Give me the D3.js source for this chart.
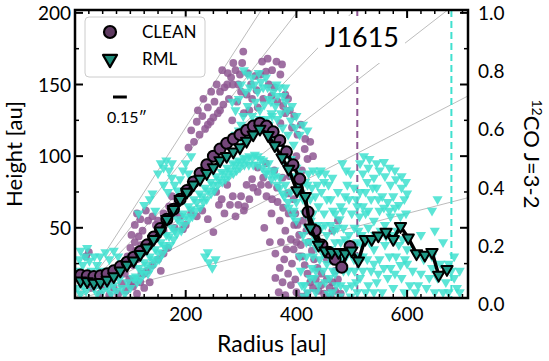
<!DOCTYPE html>
<html>
<head>
<meta charset="utf-8">
<script src="https://cdn.jsdelivr.net/npm/d3@7"></script>
<style>
  body { margin: 0; background: #fff; }
  text { font-family: Lato, "Open Sans", sans-serif; }
</style>
</head>
<body>
<div class="container"></div>
<script>
// binned height profiles
const cleanR = [10,22,34,46,58,70,82,94,106,118,130,142,154,166,178,190,202,214,226,238,250,262,274,286,298,310,322,334,346,358,370,382,394,406,421,434,446,458,470,482,497];
const cleanZ = [17,16.5,16,16.5,18,20,23,26,29.5,33.5,38,43.5,49.5,56,63,70,76,82,88,94,100,105,109,112,115,118,121,123,121,117,111,103,94,84,61,48,38,33,28,22.5,37];
const rmlR = [10,22,34,46,58,70,82,94,106,118,130,142,154,166,178,190,202,214,226,238,250,262,274,286,298,310,322,334,349,361,374,386,401,416,425,440,452,464,476,488,500,512,524,536,548,562,575,588,602,617,632,645,657,672];
const rmlZ = [13,12.5,11.5,12,13.5,16,20,24,27,31.5,36,42,48,56,63,70,75,80,84,88,92,97,100,103,106,110.5,115,119,114.5,107.5,99,91,76,72,50,38,34,33,33,32,34,27,42,42,44.5,47,42,51,43,32,31,33,17,21];

// individual emission surface points [r, z]
const cleanCloud = [
  [20,30],[25,33],[30,8],[45,4],[55,9],[62,3],[70,8],[78,4],[85,11],[92,6],[98,14],[105,9],[112,4],[118,12],[125,18],
  [80,22],[90,26],[100,30],[110,34],[102,45],[108,52],[112,60],[118,56],[122,48],[128,62],[132,55],[140,58],[146,52],
  [108,40],[115,44],[95,30],[100,36],[105,24],[112,28],[120,32],[140,40],[150,45],[160,48],[170,55],[180,60],[195,49],
  [185,68],[175,72],[100,10],[110,14],[120,18],[130,20],[140,24],[150,28],[160,32],[168,36],[155,20],[135,12],[125,8],
  [160,60],[150,55],[170,65],[180,50],[190,58],[200,52],[210,60],[220,58],[230,62],[240,56],[130,40],[120,38],[90,18],
  [75,16],[65,12],[50,16],[40,10],
  [205,106],[215,110],[225,115],[235,119],[245,124],[258,130],[268,136],[278,140],[285,150],[293,138],[300,145],[305,130],
  [310,143],[315,132],[320,140],[328,146],[304,173],[275,150],[282,155],[290,160],[298,157],[335,157],[345,159],[350,150],
  [360,148],[371,157],[374,164],[380,143],[385,140],[376,135],[380,130],[371,123],[392,120],[284,125],[262,132],[250,127],[240,122],
  [210,118],[220,124],[230,128],[240,134],[252,138],[262,145],[270,148],[276,158],[286,165],[295,150],[302,165],[312,158],
  [318,150],[326,156],[338,166],[348,168],[356,160],[364,166],[330,134],[340,140],[355,142],[366,138],[388,132],[396,128],
  [402,115],[408,122],[416,112],[232,140],[246,145],[256,150],[266,160],[222,132],
  [255,75],[265,70],[275,80],[285,72],[295,66],[305,62],[315,70],[330,75],[340,85],[350,80],[360,90],[365,78],[375,85],
  [385,74],[395,70],[400,82],[410,90],[345,95],[330,92],[320,84],[250,47],[307,65],[270,60],[290,58],[400,100],[415,105],
  [425,110],[420,98],[430,100],[388,86],[392,92],
  [260,66],[280,66],[300,72],[310,80],[322,78],[336,80],[346,72],[356,70],[366,68],[376,64],[386,60],[396,52],[355,60],
  [370,55],[380,48],[390,42],[372,40],[382,35],[362,32],[352,40],[342,50],
  [398,60],[402,52],[405,45],[408,38],[410,30],[415,24],[420,18],[425,12],[430,8],[440,6],[450,4],[460,8],[465,12],
  [412,55],[418,48],[422,40],[428,34],[432,28],[438,22],[445,18],[362,15],[370,22],[378,28],[385,18],[392,25],[398,14],
  [470,20],[455,28],[465,48],[475,55],
  [400,40],[405,30],[395,35],[390,10],[400,5],[410,2],[420,4],[435,14],[445,10],[455,14],[462,2],[470,6],[475,14],[480,4],
  [375,12],[368,5],[380,3]
];
const rmlCloud = [
  [5,20],[8,28],[10,34],[14,24],[18,30],[22,36],[26,27],[30,20],[5,8],[10,4],[15,10],[20,6],[25,14],[35,8],[40,4],[45,12],
  [50,6],[55,14],[60,8],[65,4],[70,10],[75,6],[80,14],[85,8],[90,4],[95,12],[100,8],[105,15],[35,30],[40,24],[45,20],
  [45,30],[55,33],[62,28],[70,34],[78,30],[115,60],[125,66],[135,70],[145,62],[140,74],
  [110,16],[115,22],[120,20],[125,26],[130,24],[135,30],[140,28],[145,35],[150,33],[155,40],[160,38],[165,45],[170,44],
  [175,50],[180,48],[185,56],[190,54],[195,60],[200,58],[205,65],[210,63],[215,70],[220,68],[225,74],[230,72],[235,78],
  [240,76],[245,82],[250,80],[255,86],[260,84],[265,89],[270,88],[275,92],[280,90],[285,95],[290,94],[295,97],[300,96],
  [305,99],[310,98],[315,100],[320,99],[325,101],[330,100],[335,98],[340,97],[350,95],[360,90],[370,85],[380,80],[390,75],
  [400,68],[345,88],[355,84],[365,80],[375,74],[385,68],[395,62],
  [112,12],[118,14],[124,18],[132,18],[138,22],[146,26],[152,28],[158,32],[164,36],[172,38],[178,42],[184,46],[192,48],
  [198,52],[206,56],[212,58],[218,62],[226,64],[232,68],[238,70],[246,74],[252,76],[258,80],[266,82],[272,84],[278,86],
  [286,88],[292,90],[298,92],[306,94],[314,94],[322,94],[330,94],[338,92],[346,90],[354,88],[362,86],[370,78],[378,72],
  [386,64],[394,58],[400,55],
  [340,125],[350,122],[360,118],[370,112],[380,105],[390,98],[400,92],[355,130],[365,126],[375,120],[385,115],[395,108],
  [300,112],[310,116],[318,120],[326,124],[334,126],[342,118],[352,112],[362,108],[372,100],[382,94],[392,86],[402,80],[408,74],
  [305,160],[312,157],[320,155],[336,152],[340,148],[358,145],[366,142],[370,148],[362,135],[372,130],[380,138],[304,128],
  [312,135],[320,128],[326,138],[334,132],[342,136],[350,140],[356,128],[346,126],[390,125],[398,120],[412,122],[420,118],
  [380,148],[345,155],[330,145],[300,122],[296,118],[290,115],
  [300,150],[308,145],[316,148],[324,150],[332,158],[348,148],[354,138],[364,150],[376,142],[384,132],[392,135],[400,128],
  [406,115],[296,140],[290,132],[284,138],
  [150,88],[155,95],[160,92],[165,97],[170,90],[175,85],[180,80],[185,76],[190,84],[160,80],[168,75],[175,95],[195,90],
  [200,95],[210,100],[205,88],[235,30],[242,26],[248,22],[254,28],[240,33],
  [420,80],[425,70],[430,60],[420,50],[425,40],[430,30],[435,20],[440,10],[445,50],[440,65],[445,75],[450,82],[455,70],
  [450,60],[455,45],[460,35],[455,25],[460,15],[465,5],[470,60],[470,40],[475,28],[470,18],[480,10],[475,75],[480,65],
  [485,50],[480,40],[490,30],[485,20],[490,8],[495,70],[500,60],[495,45],[500,35],[505,20],[500,10],[510,5],[505,50],
  [465,85],[440,88],[430,90],[415,60],[412,45],[418,30],[425,15],[435,5],[510,40],[510,65],[415,10],
  [405,88],[408,80],[412,70],[416,82],[422,88],[428,78],[434,72],[438,80],[444,90],[452,88],[458,80],[462,70],[466,62],
  [462,52],[468,48],[474,50],[478,56],[484,62],[488,72],[492,80],[498,88],[504,78],[508,70],[514,58],[512,48],[406,30],
  [408,20],[410,10],[414,2],[420,5],[428,22],[432,44],[436,36],[442,28],[448,20],[452,12],[458,4],[462,28],[466,20],
  [472,10],[478,2],[482,30],[488,42],[494,20],[498,2],[504,28],[508,12],[514,30],[518,45],[438,52],[444,40],[448,32],
  [452,52],[432,15],[426,55],[418,40],
  [520,88],[530,92],[540,85],[550,90],[560,86],[570,80],[580,84],[590,78],[600,74],[525,75],[535,70],[545,78],[555,72],
  [565,68],[575,72],[585,66],[595,70],[483,95],[490,90],[525,60],[540,55],[550,62],[560,52],[570,58],[530,50],
  [645,62],[655,70],[650,48],[625,45],[665,40],[540,35],[550,28],[560,38],[570,22],[580,30],[590,15],
  [600,25],[545,12],[555,5],[565,15],[575,8],[585,38],[595,5],[535,20],[610,20],[620,10],[630,28],[640,15],[650,5],
  [660,25],[670,12],[680,20],[690,8],[615,32],[645,30],[685,30],[675,5],[520,30],[515,15],[525,5],
  [515,95],[522,100],[532,98],[545,95],[558,96],[568,92],[578,90],[590,86],[598,82],[528,82],
  [538,78],[548,70],[558,64],[568,62],[578,64],[588,58],[598,60],[532,40],[542,45],[552,48],[562,44],[572,45],
  [582,48],[592,42],[600,35],[695,20],[540,25],[548,18],[558,22],[568,30],[578,18],[588,24],[596,28],[605,10],[615,5],
  [625,18],[635,8],[645,22],[655,15],[665,5],[675,25],[685,15],[695,5],[530,10],[540,5],[520,20],[528,28],[518,38],
  [520,65],[530,62],[515,75]
];

const slopes = [0.1, 0.2, 0.3, 0.4, 0.5, 0.6];
const xTicks = [200, 400, 600];
const yTicks = [50, 100, 150, 200];
const rightTicks = [0, 0.2, 0.4, 0.6, 0.8, 1.0];
const cleanEdge = 510, rmlEdge = 680;
const beamAu = 25;

const W = 549, H = 361;
const L = 75, R = 468, T = 10, B = 298;
const purple = '#8e5792', cyan = '#3fe0cf';
const cleanFace = '#74467a', rmlFace = '#1f9a88';

const x = d3.scaleLinear().domain([0, 710]).range([L, R]);
const y = d3.scaleLinear().domain([1, 202]).range([B, T]);
const yr = d3.scaleLinear().domain([0, 1]).range([304, 13]);

const svg = d3.select('.container').append('svg')
    .attr('width', W).attr('height', H);

svg.append('clipPath').attr('id', 'clip')
    .append('rect').attr('x', L).attr('y', T).attr('width', R - L).attr('height', B - T);

const plot = svg.append('g').attr('clip-path', 'url(#clip)');

// constant z/r lines
plot.append('g').selectAll('line')
    .data(slopes).enter().append('line')
    .attr('x1', x(0)).attr('y1', y(0))
    .attr('x2', x(800)).attr('y2', d => y(800 * d))
    .attr('stroke', '#b4b4b4').attr('stroke-width', 0.9);

// outer edges
plot.append('line')
    .attr('x1', x(cleanEdge)).attr('x2', x(cleanEdge)).attr('y1', T).attr('y2', B)
    .attr('stroke', purple).attr('stroke-width', 2).attr('stroke-dasharray', '7,4');
plot.append('line')
    .attr('x1', x(rmlEdge)).attr('x2', x(rmlEdge)).attr('y1', T).attr('y2', B)
    .attr('stroke', cyan).attr('stroke-width', 2).attr('stroke-dasharray', '7,4');

// scatter clouds
plot.append('g').selectAll('circle')
    .data(cleanCloud).enter().append('circle')
    .attr('cx', d => x(d[0])).attr('cy', d => y(d[1]))
    .attr('r', 3.9).attr('fill', purple).attr('opacity', 0.85);

plot.append('g').selectAll('path')
    .data(rmlCloud).enter().append('path')
    .attr('d', d3.symbol().type(d3.symbolTriangle).size(45))
    .attr('transform', d => `translate(${x(d[0])},${y(d[1])}) rotate(180)`)
    .attr('fill', cyan).attr('opacity', 0.85);

// binned profiles
const cleanPts = cleanR.map((r, i) => [r, cleanZ[i]]);
const rmlPts = rmlR.map((r, i) => [r, rmlZ[i]]);
const line = d3.line().x(d => x(d[0])).y(d => y(d[1]));

plot.append('path').datum(cleanPts).attr('d', line)
    .attr('fill', 'none').attr('stroke', '#000').attr('stroke-width', 3.5).attr('stroke-linejoin', 'round');
plot.append('g').selectAll('circle')
    .data(cleanPts).enter().append('circle')
    .attr('cx', d => x(d[0])).attr('cy', d => y(d[1]))
    .attr('r', 5.5).attr('fill', cleanFace).attr('stroke', '#000').attr('stroke-width', 2);

plot.append('path').datum(rmlPts).attr('d', line)
    .attr('fill', 'none').attr('stroke', '#000').attr('stroke-width', 3.5).attr('stroke-linejoin', 'round');
plot.append('g').selectAll('path')
    .data(rmlPts).enter().append('path')
    .attr('d', d3.symbol().type(d3.symbolTriangle).size(55))
    .attr('transform', d => `translate(${x(d[0])},${y(d[1])}) rotate(180)`)
    .attr('fill', rmlFace).attr('stroke', '#000').attr('stroke-width', 2).attr('stroke-linejoin', 'round');

// source name with white box
const nameG = svg.append('g');
const nameBox = nameG.append('rect').attr('fill', '#fff');
const name = nameG.append('text')
    .attr('x', 362).attr('y', 47)
    .attr('text-anchor', 'middle')
    .attr('font-size', 27)
    .text('J1615');
const bb = name.node().getBBox();
nameBox.attr('x', bb.x - 7).attr('y', bb.y - 4).attr('width', bb.width + 13).attr('height', bb.height + 14);

// axes frame and ticks
const ax = svg.append('g').attr('stroke', '#000');
const xMinor = d3.range(25, 710, 25).filter(v => !xTicks.includes(v));
const yMinor = d3.range(25, 202, 25).filter(v => !yTicks.includes(v));

ax.selectAll('.xmaj').data(xTicks).enter().append('g').each(function (d) {
  d3.select(this).append('line').attr('x1', x(d)).attr('x2', x(d)).attr('y1', B).attr('y2', B - 8).attr('stroke-width', 2);
  d3.select(this).append('line').attr('x1', x(d)).attr('x2', x(d)).attr('y1', T).attr('y2', T + 8).attr('stroke-width', 2);
});
ax.selectAll('.xmin').data(xMinor).enter().append('g').each(function (d) {
  d3.select(this).append('line').attr('x1', x(d)).attr('x2', x(d)).attr('y1', B).attr('y2', B - 4).attr('stroke-width', 1.5);
  d3.select(this).append('line').attr('x1', x(d)).attr('x2', x(d)).attr('y1', T).attr('y2', T + 4).attr('stroke-width', 1.5);
});
ax.selectAll('.ymaj').data(yTicks).enter().append('g').each(function (d) {
  d3.select(this).append('line').attr('x1', L).attr('x2', L + 8).attr('y1', y(d)).attr('y2', y(d)).attr('stroke-width', 2);
  d3.select(this).append('line').attr('x1', R).attr('x2', R - 8).attr('y1', y(d)).attr('y2', y(d)).attr('stroke-width', 2);
});
ax.selectAll('.ymin').data(yMinor).enter().append('g').each(function (d) {
  d3.select(this).append('line').attr('x1', L).attr('x2', L + 4).attr('y1', y(d)).attr('y2', y(d)).attr('stroke-width', 1.5);
  d3.select(this).append('line').attr('x1', R).attr('x2', R - 4).attr('y1', y(d)).attr('y2', y(d)).attr('stroke-width', 1.5);
});
ax.append('rect').attr('x', L).attr('y', T).attr('width', R - L).attr('height', B - T)
    .attr('fill', 'none').attr('stroke-width', 2.5);

// tick labels
svg.append('g').selectAll('text').data(xTicks).enter().append('text')
    .attr('x', d => x(d)).attr('y', 320.5).attr('text-anchor', 'middle').attr('font-size', 19)
    .text(d => d);
svg.append('g').selectAll('text').data(yTicks).enter().append('text')
    .attr('x', 71).attr('y', d => y(d) + 7).attr('text-anchor', 'end').attr('font-size', 19)
    .text(d => d);
svg.append('g').selectAll('text').data(rightTicks).enter().append('text')
    .attr('x', 478).attr('y', d => yr(d) + 7).attr('text-anchor', 'start').attr('font-size', 19)
    .text(d => d.toFixed(1));

// axis titles
svg.append('text').attr('x', 272).attr('y', 352).attr('text-anchor', 'middle').attr('font-size', 23)
    .text('Radius [au]');
svg.append('text').attr('transform', `translate(22,${(T + B) / 2}) rotate(-90)`)
    .attr('text-anchor', 'middle').attr('font-size', 22).text('Height [au]');
const rt = svg.append('text').attr('transform', `translate(524,${(T + B) / 2}) rotate(90)`)
    .attr('text-anchor', 'middle').attr('font-size', 22);
rt.append('tspan').attr('font-size', 14).attr('dy', -8).text('12');
rt.append('tspan').attr('dy', 8).text('CO J=3-2');

// legend
const lg = svg.append('g');
lg.append('rect').attr('x', 85).attr('y', 17).attr('width', 120).attr('height', 60).attr('rx', 4)
    .attr('fill', '#fff').attr('fill-opacity', 0.85).attr('stroke', '#cccccc').attr('stroke-width', 1);
lg.append('circle').attr('cx', 110).attr('cy', 32).attr('r', 6)
    .attr('fill', '#5e3a60').attr('stroke', '#000').attr('stroke-width', 2.2);
lg.append('path').attr('d', d3.symbol().type(d3.symbolTriangle).size(85))
    .attr('transform', 'translate(110,59) rotate(180)')
    .attr('fill', '#1c8a78').attr('stroke', '#000').attr('stroke-width', 2.2).attr('stroke-linejoin', 'round');
lg.append('text').attr('x', 142).attr('y', 38).attr('font-size', 17).text('CLEAN');
lg.append('text').attr('x', 142).attr('y', 65).attr('font-size', 17).text('RML');

// beam scale bar
const barX = 113;
svg.append('line').attr('x1', barX).attr('x2', barX + (x(beamAu) - x(0))).attr('y1', 97).attr('y2', 97)
    .attr('stroke', '#000').attr('stroke-width', 3);
svg.append('text').attr('x', 107).attr('y', 123).attr('font-size', 16).text('0.15\u2033');
</script>
</body>
</html>
